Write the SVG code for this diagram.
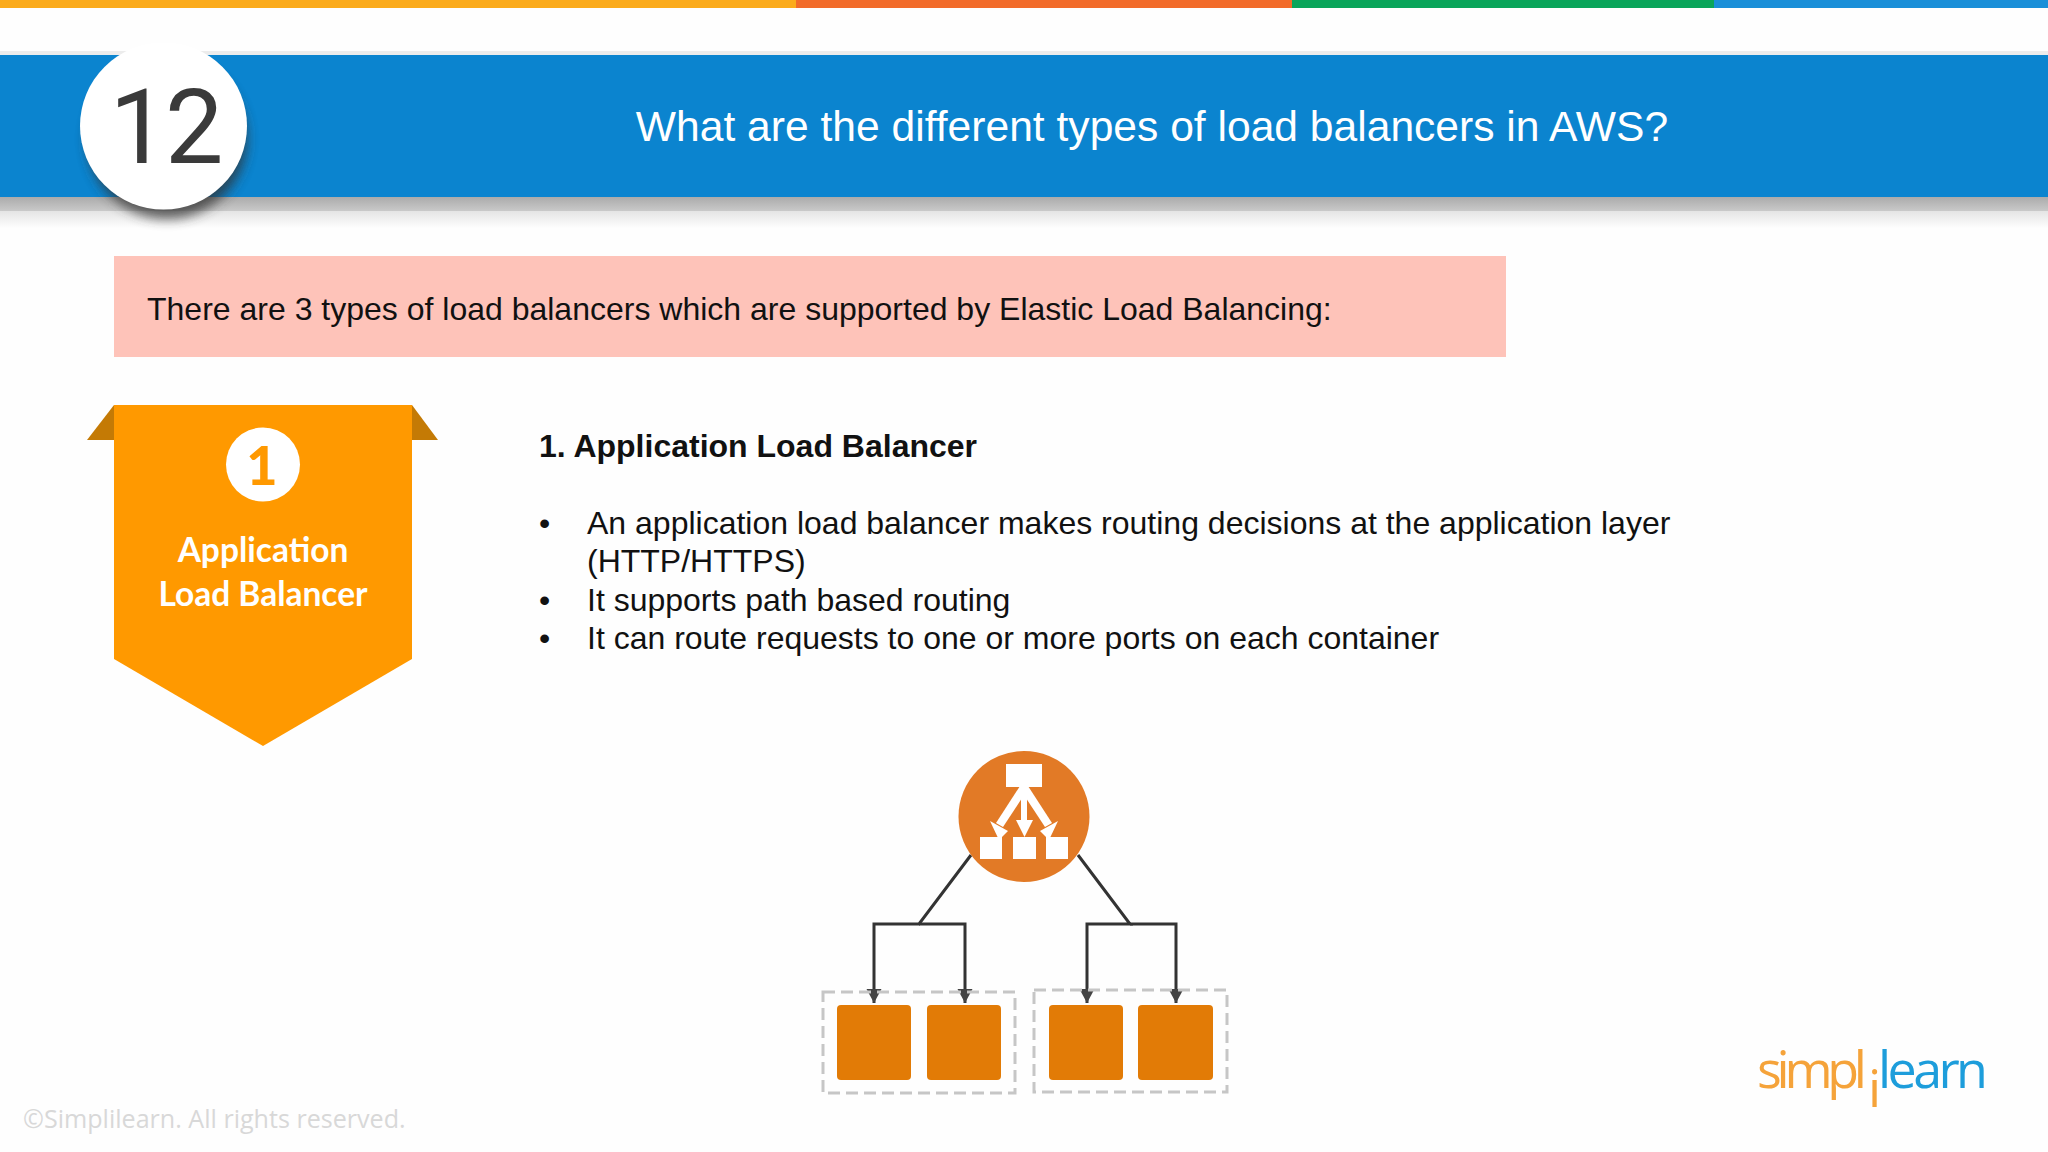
<svg xmlns="http://www.w3.org/2000/svg" width="2048" height="1152" viewBox="0 0 2048 1152">
<defs>
<linearGradient id="sh" x1="0" y1="0" x2="0" y2="1"><stop offset="0" stop-color="#ababab"/><stop offset="1" stop-color="#c9c9c9"/></linearGradient>
<linearGradient id="fade" x1="0" y1="0" x2="0" y2="1"><stop offset="0" stop-color="#e4e4e4"/><stop offset="1" stop-color="#fefefe"/></linearGradient>
<filter id="blur" x="-30%" y="-30%" width="160%" height="160%"><feGaussianBlur stdDeviation="6"/></filter>
<marker id="ah" markerWidth="15" markerHeight="16" refX="14" refY="8" orient="auto" markerUnits="userSpaceOnUse"><path d="M0 0.5L14 8L0 15.5Z" fill="#444"/></marker>
</defs>
<style>
.s{font-family:"Liberation Sans",Arial,sans-serif}
.b{font-family:Lato,"Open Sans",sans-serif;font-weight:700;fill:#fff}
.t{font-size:32px;fill:#111}
.c{fill:none;stroke:#333;stroke-width:3}
.d{fill:none;stroke:#c6c6c6;stroke-width:3;stroke-dasharray:12 6}
.o{fill:#e27b06}
</style>
<rect width="2048" height="1152" fill="#fefefe"/>
<rect x="0" y="0" width="796" height="8" fill="#fbab1c"/>
<rect x="796" y="0" width="496" height="8" fill="#f26b2a"/>
<rect x="1292" y="0" width="422" height="8" fill="#0aa55a"/>
<rect x="1714" y="0" width="334" height="8" fill="#1a8fd8"/>
<rect x="0" y="51" width="2048" height="5" fill="#ececec"/>
<rect x="0" y="55" width="2048" height="142" fill="#0b84cf"/>
<rect x="0" y="197" width="2048" height="14" fill="url(#sh)"/>
<rect x="0" y="211" width="2048" height="17" fill="url(#fade)"/>
<g id="number">
<circle cx="167" cy="139" r="80" fill="#333" opacity="0.75" filter="url(#blur)"/>
<circle cx="163.500" cy="126" r="83.500" fill="#fff"/>
<text x="165" y="163" font-family="Roboto,sans-serif" font-size="104" letter-spacing="-3" text-anchor="middle" fill="#3a3a3a">12</text>
</g>
<text class="s" x="1152" y="141" font-size="42.6" text-anchor="middle" fill="#fff">What are the different types of load balancers in AWS?</text>
<g id="intro">
<rect x="114" y="256" width="1392" height="101" fill="#fec3b9"/>
<text class="s t" x="147" y="320">There are 3 types of load balancers which are supported by Elastic Load Balancing:</text>
</g>
<g id="badge">
<path d="M114 405L87 440H114Z" fill="#c47a05"/>
<path d="M412 405L438 440H412Z" fill="#c47a05"/>
<path d="M114 405H412V659L263 746L114 659Z" fill="#ff9900"/>
<circle cx="263" cy="464.500" r="37" fill="#fff"/>
<text class="b" x="262" y="485" font-size="54" font-weight="900" text-anchor="middle" style="fill:#ff9900;font-weight:900">1</text>
<text class="b" x="263" y="562" font-size="33.500" text-anchor="middle">Application</text>
<text class="b" x="263" y="606" font-size="33.500" text-anchor="middle">Load Balancer</text>
</g>
<g id="body">
<text class="s t" x="539" y="457" font-weight="700">1. Application Load Balancer</text>
<text class="s t" x="539" y="534">•</text><text class="s t" x="587" y="534">An application load balancer makes routing decisions at the application layer</text>
<text class="s t" x="587" y="572">(HTTP/HTTPS)</text>
<text class="s t" x="539" y="611">•</text><text class="s t" x="587" y="611">It supports path based routing</text>
<text class="s t" x="539" y="649">•</text><text class="s t" x="587" y="649">It can route requests to one or more ports on each container</text>
</g>
<g id="connectors">
<path class="c" d="M971 855L919 924H874V1003" marker-end="url(#ah)"/>
<path class="c" d="M919 924H965V1003" marker-end="url(#ah)"/>
<path class="c" d="M1078 855L1130 924H1087V1003" marker-end="url(#ah)"/>
<path class="c" d="M1130 924H1176V1003" marker-end="url(#ah)"/>
</g>
<g id="elb">
<circle cx="1024" cy="816.500" r="65.500" fill="#e27a26"/>
<g fill="#fff">
<rect x="1006" y="764" width="36" height="23"/>
<rect x="980" y="837" width="22" height="22"/><rect x="1013" y="837" width="23" height="22"/><rect x="1046" y="837" width="22" height="22"/>
<path d="M1020 786L1028 789L1003 827L996 823Z"/>
<path d="M1028 786L1020 789L1045 827L1052 823Z"/>
<rect x="1021" y="787" width="6" height="36"/>
<path d="M990 821L1008 831L999 840Z"/>
<path d="M1058 821L1040 831L1049 840Z"/>
<path d="M1016 820H1033L1024.500 837Z"/>
</g>
</g>
<g id="group-left">
<rect class="d" x="823" y="992" width="192" height="101"/>
<rect class="o" x="837" y="1005" width="74" height="75" rx="4"/>
<rect class="o" x="927" y="1005" width="74" height="75" rx="4"/>
</g>
<g id="group-right">
<rect class="d" x="1034" y="990" width="193" height="102"/>
<rect class="o" x="1049" y="1005" width="74" height="75" rx="4"/>
<rect class="o" x="1138" y="1005" width="75" height="75" rx="4"/>
</g>
<text x="23" y="1128" font-family="Open Sans,sans-serif" font-size="25.100" fill="#d8d8d8">©Simplilearn. All rights reserved.</text>
<g id="logo" font-family="Open Sans,sans-serif" font-size="52">
<text x="1757" y="1088" fill="#f5a33a" textLength="110">simpl</text>
<text x="1868" y="1107" fill="#f5a33a">i</text>
<text x="1878" y="1088" fill="#1d9ddb" textLength="110">learn</text>
</g>
</svg>
